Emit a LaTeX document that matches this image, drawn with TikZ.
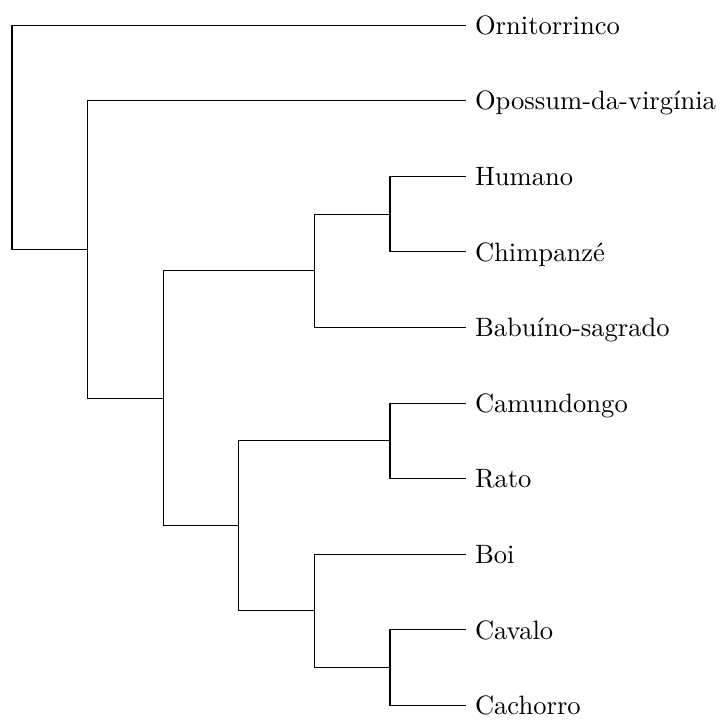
\documentclass[tikz,border=0pt]{standalone}
\begin{document}
\begin{tikzpicture}[
  leaf/.style={anchor=west, text height=7pt, text depth=0pt, inner sep=3.33pt},
  branch/.style={draw=black, line width=0.4pt}
]
\useasboundingbox (-0.159,0.331) rectangle (9.378,-9.19);
% leaves
\node[leaf] (orn) at (6,0) {Ornitorrinco};
\node[leaf] (opo) at (6,-1) {Opossum-da-virgínia};
\node[leaf] (hum) at (6,-2) {Humano};
\node[leaf] (chi) at (6,-3) {Chimpanzé};
\node[leaf] (bab) at (6,-4) {Babuíno-sagrado};
\node[leaf] (cam) at (6,-5) {Camundongo};
\node[leaf] (rat) at (6,-6) {Rato};
\node[leaf] (boi) at (6,-7) {Boi};
\node[leaf] (cav) at (6,-8) {Cavalo};
\node[leaf] (cac) at (6,-9) {Cachorro};
% internal nodes
\coordinate (hc) at (5,-2.5);
\coordinate (pri) at (4,-3.25);
\coordinate (rod) at (5,-5.5);
\coordinate (cc) at (5,-8.5);
\coordinate (ung) at (4,-7.75);
\coordinate (gli) at (3,-6.625);
\coordinate (eut) at (2,-4.9375);
\coordinate (the) at (1,-2.96875);
\coordinate (root) at (0,-1.484375);
% branches
\draw[branch] (hc) |- (hum.west);
\draw[branch] (hc) |- (chi.west);
\draw[branch] (pri) |- (hc);
\draw[branch] (pri) |- (bab.west);
\draw[branch] (rod) |- (cam.west);
\draw[branch] (rod) |- (rat.west);
\draw[branch] (cc) |- (cav.west);
\draw[branch] (cc) |- (cac.west);
\draw[branch] (ung) |- (boi.west);
\draw[branch] (ung) |- (cc);
\draw[branch] (gli) |- (rod);
\draw[branch] (gli) |- (ung);
\draw[branch] (eut) |- (pri);
\draw[branch] (eut) |- (gli);
\draw[branch] (the) |- (opo.west);
\draw[branch] (the) |- (eut);
\draw[branch] (root) |- (orn.west);
\draw[branch] (root) |- (the);
\end{tikzpicture}
\end{document}
